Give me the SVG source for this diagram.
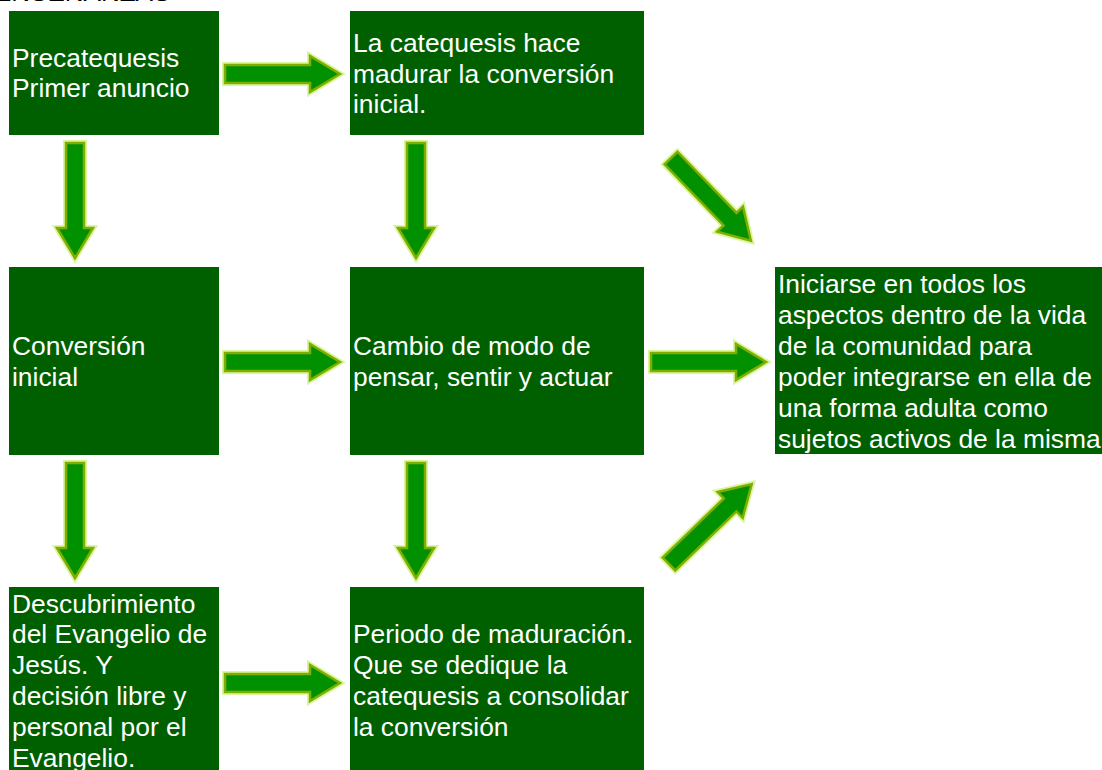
<svg xmlns="http://www.w3.org/2000/svg" width="1102" height="770" viewBox="0 0 1102 770">
<style>
.box{fill:#006000}
.t{font-family:"Liberation Sans",Arial,sans-serif;font-size:26.4px;fill:#ffffff}
.hdr{font-family:"Liberation Sans",Arial,sans-serif;font-size:26px;fill:#000000}
.glow{fill:none;stroke:#d9f79a;stroke-width:6;stroke-linejoin:miter}
.arr{fill:#009000;stroke:#7fae00;stroke-width:2.5;stroke-linejoin:miter}
</style>
<defs>
<g id="arrow">
<path class="glow" d="M0,-9 L85,-9 L85,-18 L115,0 L85,18 L85,9 L0,9 Z"/>
<path class="arr" d="M0,-9 L85,-9 L85,-18 L115,0 L85,18 L85,9 L0,9 Z"/>
</g>
</defs>
<rect width="1102" height="770" fill="#ffffff"/>
<text class="hdr" x="-6" y="1">ENSEÑANZAS</text>
<g id="connectors">
<use href="#arrow" transform="translate(225,74)"/>
<use href="#arrow" transform="translate(225,362)"/>
<use href="#arrow" transform="translate(651,362)"/>
<use href="#arrow" transform="translate(225,683)"/>
<use href="#arrow" transform="translate(75,143) rotate(90)"/>
<use href="#arrow" transform="translate(416,143) rotate(90)"/>
<use href="#arrow" transform="translate(75,463) rotate(90)"/>
<use href="#arrow" transform="translate(416,463) rotate(90)"/>
<use href="#arrow" transform="translate(671,158) rotate(46)"/>
<use href="#arrow" transform="translate(669,564) rotate(-44)"/>
</g>
<g id="n1">
<rect class="box" x="9" y="11" width="210" height="124"/>
<text class="t" x="12" y="67">Precatequesis</text>
<text class="t" x="12" y="97">Primer anuncio</text>
</g>
<g id="n2">
<rect class="box" x="350" y="11" width="294" height="124"/>
<text class="t" x="353" y="52">La catequesis hace</text>
<text class="t" x="353" y="83">madurar la conversión</text>
<text class="t" x="353" y="113">inicial.</text>
</g>
<g id="n3">
<rect class="box" x="9" y="267" width="210" height="188"/>
<text class="t" x="12" y="355">Conversión</text>
<text class="t" x="12" y="386">inicial</text>
</g>
<g id="n4">
<rect class="box" x="350" y="267" width="294" height="188"/>
<text class="t" x="353" y="355">Cambio de modo de</text>
<text class="t" x="353" y="386">pensar, sentir y actuar</text>
</g>
<g id="n5">
<rect class="box" x="9" y="587" width="210" height="183"/>
<text class="t" x="12" y="613">Descubrimiento</text>
<text class="t" x="12" y="643">del Evangelio de</text>
<text class="t" x="12" y="674">Jesús. Y</text>
<text class="t" x="12" y="705">decisión libre y</text>
<text class="t" x="12" y="736">personal por el</text>
<text class="t" x="12" y="767">Evangelio.</text>
</g>
<g id="n6">
<rect class="box" x="350" y="587" width="294" height="183"/>
<text class="t" x="353" y="643">Periodo de maduración.</text>
<text class="t" x="353" y="674">Que se dedique la</text>
<text class="t" x="353" y="705">catequesis a consolidar</text>
<text class="t" x="353" y="736">la conversión</text>
</g>
<g id="n7">
<rect class="box" x="775" y="267" width="327" height="187"/>
<text class="t" x="778" y="293">Iniciarse en todos los</text>
<text class="t" x="778" y="324">aspectos dentro de la vida</text>
<text class="t" x="778" y="355">de la comunidad para</text>
<text class="t" x="778" y="386">poder integrarse en ella de</text>
<text class="t" x="778" y="417">una forma adulta como</text>
<text class="t" x="778" y="448">sujetos activos de la misma</text>
</g>
</svg>
